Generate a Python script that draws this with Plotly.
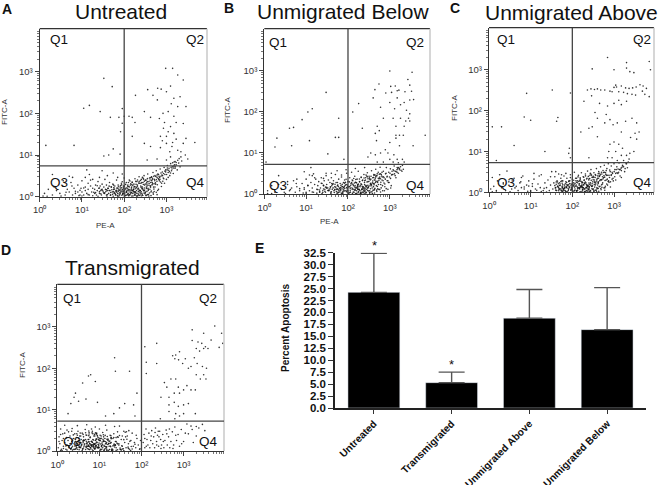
import plotly.graph_objects as go

W, H = 659, 485

# Flow-cytometry events: (PE-A, FITC-A)
untreated_events = [
(33,690),(52,437),(11,132),(15,155),(1.4,17),(6.5,17),(27,110),(47,80),(75,80),(90,130),(100,85),(130,85),(155,80),(180,60),(90,58),(82,36),(55,14),(43,10),(33,9.5),(80,10.5),
(960,1200),(1400,1200),(1850,830),(2500,630),(1250,450),(620,400),(750,380),(360,370),(480,270),(610,210),(1000,330),(1500,230),(2900,145),(1850,145),(830,100),(1500,85),(680,75),(420,80),(300,110),(185,270),(2500,57),(1250,48),(850,44),(1000,28),(1500,33),(720,28),(2900,25),(4700,20),(1000,19),(1350,16),(1850,13),(2500,19),(155,28),(300,19),(420,16),(720,15),(1250,9),(2200,9),(1000,7.6),(600,8),(350,7.6),(1700,60),(1100,110),(2100,250),(1300,170),(900,60),(1100,36),(1700,24),(2200,12),(1600,7),(2800,10),(3200,8),(1200,12),(800,22),(1400,20),
(1.3,1.2),(1.6,1.5),(2,1.1),(2.5,1.4),(3,1.2),(3.5,1.8),(4,1.1),(4.5,1.5),(5,1.3),(5.5,2.2),(6,1.1),(6.5,1.6),(7,1.2),(8,1.9),(8,1.3),(9,1.1),(9.5,1.6),(10,2.4),(10,1.3),(11,1.1),(12,1.7),(12,1.4),(13,1.2),(14,2.1),(14,1.5),(15,1.1),(16,1.8),(17,1.3),(18,1.6),(18,2.6),(20,1.2),(20,1.5),(21,1.9),(22,1.1),(23,1.4),(24,2.3),(25,1.6),(26,1.2),(27,1.8),(28,1.4),(29,1.1),(30,2.0),(30,1.5),(32,1.3),(33,1.7),(34,1.2),(35,2.6),(36,1.5),(38,1.1),(38,1.9),(40,1.4),(42,1.6),(43,1.2),(45,2.2),(46,1.4),(48,1.1),(50,1.7),(52,1.3),(54,2.0),(56,1.5),(58,1.2),(60,1.8),(62,1.1),(64,1.4),(66,2.5),(68,1.6),(70,1.2),(72,1.9),(75,1.4),(78,1.1),(80,1.7),(83,1.3),(86,2.1),(90,1.5),(93,1.2),(96,1.8),(100,1.4),(100,2.8),(104,1.1),(108,1.6),(112,2.2),(115,1.3),(120,1.8),(124,1.2),(128,1.5),(132,2.5),(136,1.1),(140,1.9),(145,1.4),(150,1.7),(155,2.2),(160,1.2),(165,1.5),(170,2.0),(175,1.3),(180,2.7),(185,1.1),(190,1.7),(196,1.4),(200,2.3),(206,1.9),(212,1.2),(218,1.6),(225,3.0),(232,2.1),(240,1.4),(246,1.8),(255,2.6),(262,1.2),(270,1.6),(278,2.2),(286,1.4),(295,3.2),(305,1.9),(315,1.3),(325,2.5),(335,1.7),(345,2.0),(360,3.5),(372,1.5),(385,2.3),(400,2.8),(415,1.8),(430,1.3),(445,3.0),(460,2.2),(480,3.8),(495,1.7),(515,2.6),(535,3.2),(555,2.0),(575,4.2),(600,2.9),(625,3.5),(650,1.5),(680,2.4),(710,4.6),(740,3.1),(770,2.1),(800,3.9),(840,2.8),(880,5.0),(920,3.4),(960,4.4),(1000,2.6),(1050,5.6),(1100,3.8),(1150,4.8),(1200,3.2),(1260,6.2),(1320,4.2),(1380,5.2),(1450,3.6),(1520,6.8),(1600,4.8),(1700,5.8),(1800,4.4),(1950,6.4),(2100,5.2),(2300,7.2),
(37,1.33),(112,1.27),(210,1.52),(88,1.08),(305,1.44),(26,1.62),(143,2.05),(61,1.21),(420,1.68),(178,1.15),(73,1.73),(254,1.31),(19,1.28),(530,2.41),(98,1.56),(340,2.16),(47,1.09),(166,1.36),(690,2.9),(122,1.91),(51,1.47),(233,1.07),(395,1.23),(84,1.38),(28,1.17),(610,1.94),(290,2.62),(134,1.12),(66,1.29),(470,2.77),(205,1.78),(41,1.58),(152,1.03),(365,1.59),(94,1.19),(23,1.83),(780,3.3),(118,1.42),(268,1.11),(57,1.66),(440,1.37),(188,2.33),(79,1.26),(330,1.05),(35,1.24),(560,3.05),(148,1.61),(103,1.02),(242,2.45),(69,1.06),(505,1.52),(160,1.87),(31,1.39),(855,3.6),(128,1.04),(295,1.22),(53,1.14),(410,2.52),(216,1.33),(86,1.64),(620,1.41),(175,1.08),(44,1.79),(375,1.13),(108,1.97),(960,3.9),(278,1.49),(64,1.35),(490,1.15),(196,1.04),(90,2.29),(725,2.25),(138,1.29),(355,2.71),(48,1.26),(250,1.69),(575,1.28),(114,1.1),(78,1.44),(1040,4.4),(310,1.18),(220,2.12),(158,1.43),(650,3.4),(96,1.32),(39,1.03),(455,1.92),(183,1.55),(71,1.01),(345,1.34),(126,2.2),(535,1.71),(270,2.9),(59,1.52),(820,2.35),(202,1.02),(105,1.48),(385,1.88),(146,1.24),(29,1.47),(1180,4.0),(600,1.12),(82,1.84),(300,2.36),(170,1.7),(425,2.2),(237,1.25),(55,1.02),(132,1.72),(500,3.1),(92,1.13),(1350,4.6),(660,2.6),(760,1.75),(1500,5.4),(900,2.1),(1700,6.6),(1100,2.9),(1250,3.7),(1850,7.5),(2000,8.2),(1550,5.8),(1050,4.9),(1400,6.5),
(7,1.35),(11,1.62),(14,1.12),(16,2.5),(18,1.05),(9,1.42),(12,2.9),(21,1.25),(24,1.02),(4.2,1.28),(5.8,1.8),(3.2,1.03),(2.2,1.7),(1.2,1.03),(6,2.9),(3.6,2.4),(8.5,1.06),(15,3.4),(26,2.9),(40,3.2),(70,2.9),(55,3.7),(30,4.2),(90,3.5),(13,4.4),(5,3.1),(2,3.4),(1.5,1.02),(10,1.04),(75,1.04),
(142,1.18),(265,1.72),(118,1.55),(372,1.42),(226,2.31),(89,1.31),(318,1.24),(156,1.39),(471,2.03),(198,1.63),(104,1.22),(284,1.96),(67,1.43),(431,1.06),(171,1.29),(125,1.09),(349,1.82),(243,1.16),(76,1.16),(512,1.33),(137,2.38),(193,1.21),(95,1.68),(406,1.51),(261,2.18),(151,1.93),(55,1.33),(324,2.47),(113,1.34),(219,1.11),(82,1.53),(462,2.61),(168,1.51),(299,1.62),(131,1.46),(548,2.15),(241,1.41),(101,1.79),(389,2.07),(186,1.27),(63,1.12),(275,1.07),(44,1.41),(354,1.12),(121,1.14),(207,2.52),(87,1.92),(596,2.35),(149,1.26),(422,1.81),(255,1.04),(72,1.33),(336,1.58),(33,1.22),(177,1.74),(109,1.07),(281,2.75),(49,1.72),(448,2.43),(224,1.47),(93,1.44),(510,2.04),(162,1.04),(68,1.62),(316,2.02),(129,1.38),(383,1.03),(38,1.46),(637,2.74),(211,1.06),(81,1.18),(296,1.39),(154,2.25),(417,2.85),(58,1.28),(249,2.11),(116,1.64),(575,2.58),(191,1.98),(26,1.32),(352,2.3),(99,1.21),(483,1.24),(146,1.49),(704,2.62),(263,1.56),(74,1.52),(230,1.38),(40,1.13),(865,2.7),(440,2.92),(125,1.76),(328,1.09),(182,1.31),(56,1.9),(598,3.3),(742,3.7),(668,3.1),(922,4.1),(1010,3.4),(812,3.2),(1130,4.3),(1290,5.1),(1480,4.9),(1620,5.2),
]

unmigrated_below_events = [
(30,300),(11,100),(14,120),(8,65),(5,42),(4,40),(12,20),(2,23),(1.8,14),(4.5,15),(60,70),(50,24),(60,24),(33,9.5),(80,7),(1.1,6),
(1000,1000),(3400,930),(2700,620),(3000,450),(550,480),(1350,430),(1050,420),(1650,340),(1500,330),(2300,310),(3300,320),(1100,300),(440,350),(800,290),(400,220),(180,160),(1000,170),(3700,200),(3000,195),(2200,170),(1800,150),(1300,120),(2500,110),(3000,90),(2800,70),(2400,60),(1800,70),(1200,70),(1400,45),(130,100),(220,40),(500,45),(560,35),(450,30),(480,20),(1400,27),(1700,27),(2100,27),(1400,23),(7000,27),(3600,15),(1700,15),(1000,18),(780,12),(600,10),(900,10),(1250,9),(450,9),(350,10),(300,8),(1500,7),(2000,7),(1000,7),(700,6),(500,6),(1200,6),(1600,5.8),(2200,6),(3000,60),(2200,45),(1500,220),(600,130),(700,70),
(1.2,1.2),(1.5,1.6),(1.8,1.1),(2.2,2.8),(2.6,1.3),(3,1.1),(3.6,1.7),(4,1.2),(4.5,1.4),(5,2.1),(5.5,1.1),(6,1.5),(7,1.2),(8,1.8),(9,3.5),(9,1.3),(10,1.1),(10,2.3),(11,1.6),(12,1.2),(13,1.9),(14,2.8),(14,1.4),(15,1.1),(16,1.7),(17,2.3),(18,1.3),(19,1.6),(20,2.0),(21,1.1),(22,1.4),(23,2.5),(24,1.8),(25,1.2),(26,1.6),(27,2.1),(28,1.3),(29,1.1),(30,2.8),(31,1.7),(33,1.4),(34,2.2),(35,1.2),(37,1.9),(38,1.5),(39,1.1),(40,2.5),(42,1.3),(43,1.7),(45,2.1),(46,1.2),(48,1.5),(50,3.0),(52,1.9),(54,1.3),(56,1.6),(58,1.1),(60,2.3),(62,1.4),(65,1.8),(67,1.2),(70,2.6),(72,1.5),(75,1.1),(78,1.9),(80,1.4),(83,2.2),(86,1.2),(90,1.7),(93,3.2),(96,1.4),(100,1.1),(100,2.0),(105,1.5),(110,2.5),(113,1.2),(118,1.8),(122,3.4),(126,1.3),(130,2.1),(135,1.6),(140,1.1),(145,2.7),(150,1.4),(155,1.9),(160,1.2),(165,2.3),(170,1.6),(176,3.6),(182,1.3),(188,2.0),(195,1.5),(200,1.1),(206,2.6),(212,1.7),(218,1.3),(225,2.2),(232,1.5),(240,3.0),(248,1.9),(256,1.2),(264,2.5),(272,1.6),(280,1.3),(290,3.3),(300,2.0),(310,1.5),(320,2.7),(330,1.2),(340,2.2),(352,1.7),(365,3.7),(378,1.4),(390,2.5),(402,1.8),(416,3.0),(430,1.3),(445,2.2),(460,4.0),(476,1.6),(492,2.8),(510,1.9),(528,3.4),(546,1.3),(565,2.4),(585,4.5),(605,1.7),(625,3.0),(650,2.2),(675,1.2),(700,3.6),(730,2.5),(760,1.5),(790,3.1),(825,4.4),(860,2.1),(900,1.3),(940,3.4),(980,2.6),(1030,4.1),(1080,1.6),(1130,3.0),(1200,3.9),(1270,4.8),(1340,2.8),(1420,3.5),(1500,4.4),(1600,3.2),(1700,3.9),(1800,4.6),(1950,3.6),(2100,4.0),
(37,1.33),(212,1.27),(110,1.52),(58,1.08),(305,1.44),(26,1.62),(143,1.85),(61,1.21),(420,1.68),(178,1.15),(73,1.73),(254,1.31),(19,1.28),(530,2.41),(98,1.56),(340,1.76),(47,1.09),(166,1.36),(690,2.1),(122,1.91),(51,1.47),(233,1.07),(395,1.23),(84,1.38),(28,1.17),(610,1.94),(290,2.62),(134,1.12),(66,1.29),(470,2.77),(205,1.78),(41,1.58),(152,1.03),(365,1.59),(94,1.19),(23,1.83),(780,2.3),(118,1.42),(268,1.11),(57,1.66),(440,1.37),(188,2.33),(79,1.26),(330,1.05),(35,1.24),(560,3.05),(148,1.61),(103,1.02),(242,2.45),(69,1.06),(505,1.52),(160,1.87),(31,1.39),(855,2.6),(128,1.04),(295,1.22),(53,1.14),(410,2.52),(216,1.33),(86,1.64),(620,1.41),(175,1.08),(44,1.79),(375,1.13),(108,1.97),(960,1.9),(278,1.49),(64,1.35),(490,1.15),(196,1.04),(90,2.29),(725,1.85),(138,1.29),(355,2.71),(48,1.26),(250,1.69),(575,1.28),(114,1.1),(78,1.44),(1040,2.4),(310,1.18),(220,2.12),(158,1.43),(650,3.4),(96,1.32),(39,1.03),(455,1.92),(183,1.55),(71,1.01),(345,1.34),(126,2.2),(535,1.71),(270,2.9),(59,1.52),(820,1.35),(202,1.02),(105,1.48),(385,1.88),(146,1.24),(29,1.47),(1180,3.0),(600,1.12),(82,1.84),(300,2.36),(170,1.7),(425,2.2),(237,1.25),(55,1.02),(132,1.72),(500,3.1),(92,1.13),(1350,3.6),(660,2.6),(760,1.75),(1500,3.4),(900,2.1),(1700,4.2),(1100,2.9),(1250,3.7),(1850,3.8),(2000,5.0),(1550,4.1),(1050,1.4),(1400,2.5),
(7,1.35),(11,1.62),(14,1.12),(16,2.5),(18,1.05),(9,1.42),(12,2.9),(21,1.25),(24,1.02),(4.2,1.28),(5.8,1.8),(3.2,1.03),(2.2,1.7),(1.2,1.03),(6,2.3),(3.6,2.0),(8.5,1.06),(15,3.1),(26,2.4),(40,3.2),(70,2.9),(55,3.7),(30,3.2),(90,3.9),(13,4.4),(1.5,1.02),(10,1.04),(75,1.04),(150,4.2),(250,4.4),
(242,1.18),(365,1.72),(218,1.55),(172,1.42),(326,2.31),(49,1.31),(418,1.24),(256,1.39),(471,2.03),(198,1.63),(34,1.22),(284,1.96),(67,1.43),(431,1.06),(171,1.29),(25,1.09),(349,1.82),(243,1.16),(76,1.16),(512,1.33),(137,2.38),(193,1.21),(95,1.68),(406,1.51),(261,2.18),(151,1.93),(55,1.33),(324,2.47),(113,1.34),(219,1.11),(82,1.53),(462,2.61),(168,1.51),(299,1.62),(31,1.46),(548,2.15),(241,1.41),(41,1.79),(389,2.07),(186,1.27),(63,1.12),(275,1.07),(44,1.41),(354,1.12),(21,1.14),(207,2.52),(87,1.92),(596,2.35),(149,1.26),(422,1.81),(255,1.04),(72,1.33),(336,1.58),(33,1.22),(177,1.74),(109,1.07),(281,2.75),(49,1.72),(448,2.43),(224,1.47),(93,1.44),(510,2.04),(162,1.04),(68,1.62),(316,2.02),(129,1.38),(383,1.03),(38,1.46),(637,2.74),(211,1.06),(81,1.18),(296,1.39),(154,2.25),(417,2.85),(58,1.28),(249,2.11),(116,1.64),(575,2.58),(191,1.98),(26,1.32),(352,2.3),(99,1.21),(483,1.24),(146,1.49),(704,2.62),(263,1.56),(74,1.52),(230,1.38),(40,1.13),(865,2.7),(440,2.92),(125,1.76),(328,1.09),(182,1.31),(56,1.9),(598,3.1),(742,1.2),(668,1.6),(922,1.9),(1010,3.2),(812,3.2),(1130,3.6),(1290,3.1),(1480,3.9),(1620,4.4),
]

unmigrated_above_events = [
(8,265),(33,320),(90,270),(7,70),(10,58),(45,68),(42,55),(1.2,40),(2,40),(4,14),(22,10),(85,12),(82,9),(90,7),(1.5,6),
(700,2000),(2000,1500),(2000,1100),(7000,1600),(300,1050),(1000,1000),(2400,900),(3000,850),(7500,1000),(4000,5500),(1100,420),(1150,380),(1000,370),(1500,400),(1900,360),(2300,350),(2800,360),(3400,380),(4200,430),(5000,400),(4800,300),(6000,350),(230,320),(280,340),(340,330),(400,340),(480,320),(600,320),(800,300),(900,290),(1300,290),(1700,280),(2100,260),(2700,250),(3300,240),(5500,250),(7000,220),(290,230),(190,170),(1300,180),(2000,170),(1000,150),(1500,140),(700,130),(450,150),(350,90),(400,65),(650,80),(800,60),(1200,50),(1900,55),(2700,65),(3500,50),(4000,30),(3200,28),(2500,22),(1500,30),(950,45),(600,50),(300,40),(250,37),(160,30),(400,23),(1000,17),(1300,15),(1600,12),(800,15),(750,10),(1100,10),(1500,8),(2000,8),(2400,9),(3000,10),(3500,20),(700,7),(900,7),(1200,6),(250,7),
(1.1,1.2),(1.2,2.3),(1.3,1.4),(1.5,1.1),(1.6,1.9),(1.8,2.7),(2,1.3),(2.2,1.6),(2.5,1.1),(2.7,3.3),(3,1.8),(3.5,1.2),(4,2.2),(4.5,1.4),(5,1.1),(5.5,1.7),(6,1.3),(6.5,2.5),(7,1.2),(8,1.5),(9,1.9),(10,1.1),(11,1.4),(12,2.1),(13,1.2),(15,1.6),(17,1.3),(18,2.7),(20,1.1),(22,1.7),(24,1.3),(26,2.0),(28,1.1),(30,1.5),(32,3.2),(34,1.2),(36,1.7),(38,2.4),(40,1.3),(42,1.1),(43,1.9),(45,1.4),(47,2.8),(49,1.2),(51,1.6),(53,2.2),(55,1.1),(57,1.4),(59,1.9),(61,1.2),(63,2.5),(65,1.5),(67,1.1),(70,1.8),(72,1.3),(74,2.2),(77,1.5),(80,1.1),(83,1.9),(86,1.3),(90,2.7),(93,1.6),(96,1.2),(100,1.1),(100,2.1),(104,1.4),(108,1.7),(112,3.1),(116,1.2),(120,2.2),(124,1.5),(128,1.1),(132,1.9),(136,1.3),(140,2.6),(145,1.6),(150,1.2),(155,2.1),(160,1.4),(165,3.0),(170,1.8),(176,1.3),(182,2.4),(188,1.5),(194,2.0),(200,1.2),(206,2.8),(212,1.7),(218,1.3),(225,2.2),(232,3.3),(240,1.5),(248,2.0),(256,1.2),(264,2.6),(272,1.7),(280,3.6),(290,1.4),(300,2.3),(310,1.8),(320,1.2),(330,3.0),(340,2.0),(352,1.5),(365,2.6),(378,3.8),(390,1.3),(402,2.2),(416,1.7),(430,3.2),(445,2.5),(460,1.4),(476,4.2),(492,2.0),(510,2.8),(528,1.6),(546,3.4),(565,2.3),(585,4.6),(605,1.3),(625,3.0),(650,2.0),(675,3.8),(700,1.5),(730,5.0),(760,2.6),(790,3.5),(825,1.8),(860,4.4),(900,3.1),(950,2.2),(1000,5.0),(1050,3.6),(1100,2.0),(1170,4.2),(1240,2.9),(1320,5.2),(1400,3.6),(1500,2.3),(1600,4.6),(1700,6.0),(1800,3.2),(1950,5.0),(2100,4.0),(2300,6.5),
(57,1.33),(212,1.27),(110,1.52),(58,1.08),(305,1.44),(46,1.62),(143,1.85),(61,1.21),(420,1.68),(178,1.15),(73,1.73),(254,1.31),(39,1.28),(530,2.41),(98,1.56),(340,1.76),(47,1.09),(166,1.36),(690,2.1),(122,1.91),(51,1.47),(233,1.07),(395,1.23),(84,1.38),(48,1.17),(610,1.94),(290,2.62),(134,1.12),(66,1.29),(470,2.77),(205,1.78),(41,1.58),(152,1.03),(365,1.59),(94,1.19),(53,1.83),(780,2.3),(118,1.42),(268,1.11),(57,1.66),(440,1.37),(188,2.33),(79,1.26),(330,1.05),(65,1.24),(560,3.05),(148,1.61),(103,1.02),(242,2.45),(69,1.06),(505,1.52),(160,1.87),(71,1.39),(855,2.6),(128,1.04),(295,1.22),(53,1.14),(410,2.52),(216,1.33),(86,1.64),(620,1.41),(175,1.08),(44,1.79),(375,1.13),(108,1.97),(960,1.9),(278,1.49),(64,1.35),(490,1.15),(196,1.04),(90,2.29),(725,1.85),(138,1.29),(355,2.71),(48,1.26),(250,1.69),(575,1.28),(114,1.1),(78,1.44),(1040,2.4),(310,1.18),(220,2.12),(158,1.43),(650,3.4),(96,1.32),(59,1.03),(455,1.92),(183,1.55),(71,1.01),(345,1.34),(126,2.2),(535,1.71),(270,2.9),(59,1.52),(820,1.35),(202,1.02),(105,1.48),(385,1.88),(146,1.24),(49,1.47),(1180,3.0),(600,1.12),(82,1.84),(300,2.36),(170,1.7),(425,2.2),(237,1.25),(55,1.02),(132,1.72),(500,3.1),(92,1.13),(1350,3.6),(660,2.6),(760,1.75),(1500,3.4),(900,2.1),(1700,4.2),(1100,2.9),(1250,3.7),(1850,3.8),(2000,5.0),(1550,4.1),(1400,2.5),(2200,5.5),
(7,1.35),(11,1.62),(14,1.12),(16,2.5),(18,1.05),(9,1.42),(12,2.9),(21,1.25),(24,1.02),(4.2,1.28),(5.8,1.8),(3.2,1.03),(2.2,1.7),(1.2,1.03),(6,2.3),(3.6,2.0),(8.5,1.06),(30,2.4),(40,3.2),(70,2.9),(55,2.7),(1.5,1.02),(10,1.04),(75,1.04),
(242,1.18),(365,1.72),(218,1.55),(172,1.42),(326,2.31),(149,1.31),(418,1.24),(256,1.39),(471,2.03),(198,1.63),(134,1.22),(284,1.96),(167,1.43),(431,1.06),(171,1.29),(125,1.09),(349,1.82),(243,1.16),(176,1.16),(512,1.33),(137,2.38),(193,1.21),(195,1.68),(406,1.51),(261,2.18),(151,1.93),(155,1.33),(324,2.47),(113,1.34),(219,1.11),(82,1.53),(462,2.61),(168,1.51),(299,1.62),(231,1.46),(548,2.15),(241,1.41),(41,1.79),(389,2.07),(186,1.27),(63,1.12),(275,1.07),(44,1.41),(354,1.12),(61,1.14),(207,2.52),(87,1.92),(596,2.35),(149,1.26),(422,1.81),(255,1.04),(72,1.33),(336,1.58),(53,1.22),(177,1.74),(109,1.07),(281,2.75),(49,1.72),(448,2.43),(224,1.47),(93,1.44),(510,2.04),(162,1.04),(68,1.62),(316,2.02),(129,1.38),(383,1.03),(38,1.46),(637,2.74),(211,1.06),(81,1.18),(296,1.39),(154,2.25),(417,2.85),(58,1.28),(249,2.11),(116,1.64),(575,2.58),(191,1.98),(46,1.32),(352,2.3),(99,1.21),(483,1.24),(146,1.49),(704,2.62),(263,1.56),(74,1.52),(230,1.38),(40,1.13),(865,2.7),(440,2.92),(125,1.76),(328,1.09),(182,1.31),(56,1.9),(598,3.1),(742,1.9),(668,1.6),(922,2.9),(1010,3.2),(812,3.2),(1130,3.6),(1290,3.1),(1480,3.9),(1620,4.4),
]

transmigrated_events = [
(1.8,8),(2.1,14),(2.5,20),(2.7,25),(3.2,16),(4,44),(4.8,18),(5.5,65),(6.2,70),(8,48),(9,15),(14,7),(22,8),(24,85),(23,180),(30,11),(40,14),(52,85),(65,13),(70,7),(78,25),
(5500,1050),(3000,700),(1600,850),(8000,700),(4500,480),(7000,320),(8500,400),(120,330),(230,400),(130,140),(130,75),(230,130),(1600,470),(2200,430),(2700,400),(3000,300),(3300,330),(3800,300),(2400,260),(2000,300),(800,250),(650,210),(550,200),(620,170),(760,160),(950,130),(1100,170),(1500,110),(2100,130),(2800,110),(3500,100),(3000,70),(2000,70),(2500,55),(3400,55),(1300,100),(1800,180),(500,55),(350,45),(650,55),(400,35),(750,35),(1000,30),(1200,38),(1500,30),(1900,30),(600,25),(800,25),(450,20),(290,20),(600,15),(450,13),(750,12),(1000,13),(1300,14),(450,9),(650,8),(1000,8),(800,7),(620,6),(1900,8),(280,6),(250,3),
(1.05,1.2),(1.1,2.2),(1.15,1.5),(1.2,3.4),(1.25,1.1),(1.3,1.8),(1.35,2.6),(1.4,1.3),(1.5,1.6),(1.5,4.2),(1.6,1.1),(1.65,2.1),(1.7,1.4),(1.8,1.8),(1.85,2.9),(1.9,1.2),(2,1.5),(2,2.3),(2.1,1.1),(2.2,1.7),(2.25,3.5),(2.3,1.3),(2.4,2.0),(2.5,1.5),(2.5,1.1),(2.6,2.6),(2.7,1.7),(2.8,1.3),(2.9,2.1),(3,1.5),(3,1.1),(3.1,3.0),(3.2,1.8),(3.3,1.3),(3.4,2.3),(3.5,1.6),(3.6,1.2),(3.7,1.9),(3.8,1.4),(3.9,2.7),(4,1.1),(4.1,1.7),(4.2,2.2),(4.3,1.3),(4.5,1.5),(4.6,3.3),(4.7,1.9),(4.9,1.2),(5,2.4),(5.1,1.6),(5.3,1.3),(5.4,1.9),(5.6,1.1),(5.7,2.8),(5.9,1.5),(6,2.1),(6.2,1.2),(6.4,1.7),(6.6,1.4),(6.8,3.0),(7,1.9),(7.2,1.2),(7.4,2.3),(7.6,1.5),(7.8,1.1),(8,1.8),(8.3,1.3),(8.5,2.6),(8.8,1.6),(9,1.2),(9.3,2.1),(9.6,1.4),(10,3.4),(10,1.8),(10.5,1.1),(11,2.3),(11.5,1.5),(12,1.2),(12,2.8),(12.5,1.7),(13,1.3),(13.5,2.0),(14,1.5),(15,3.2),(15,1.1),(16,1.8),(17,1.3),(18,2.4),(19,1.6),(20,1.1),(21,2.0),(22,1.4),(23,3.9),(24,1.7),(25,1.2),(27,2.2),(29,1.5),(31,1.1),(33,1.9),(35,1.3),(38,3.0),(40,1.6),(43,1.2),(46,2.3),(49,1.5),(52,1.1),(56,1.8),(60,2.7),(64,1.3),(68,1.6),(73,1.2),(78,2.0),(84,1.4),(90,1.1),(110,1.6),(115,2.5),(120,1.2),(128,3.4),(135,1.9),(142,1.4),(150,2.7),(158,1.2),(166,1.8),(175,3.1),(185,1.5),(195,2.2),(205,1.2),(215,3.6),(228,1.7),(240,2.4),(255,1.3),(270,3.0),(285,1.9),(300,1.4),(320,2.5),(340,1.2),(360,1.8),(385,3.2),(410,1.4),(440,2.2),(470,1.2),(500,1.7),(540,2.9),(580,1.4),(620,3.8),(680,1.8),(740,2.5),(800,1.3),(880,3.3),(1000,1.7),(1200,4.5),(1300,2.6),(1500,4.0),(1700,1.6),(2000,2.3),(2300,3.6),(2800,4.4),
(3.7,1.33),(11.2,1.27),(2.1,1.52),(5.8,1.08),(7.5,1.44),(2.6,1.62),(4.3,1.85),(6.1,1.21),(14,1.68),(7.8,1.15),(1.3,1.03),(5.4,1.31),(1.9,1.28),(8.9,2.41),(9.8,1.56),(3.4,1.76),(4.7,1.09),(6.6,1.36),(19,2.1),(12.2,1.91),(5.1,1.47),(3.3,1.07),(9.5,1.23),(8.4,1.38),(2.8,1.17),(16,1.94),(2.9,2.62),(13.4,1.12),(6.6,1.29),(4.7,2.77),(10.5,1.78),(4.1,1.58),(15,1.03),(3.6,1.59),(9.4,1.19),(2.3,1.83),(7.8,2.3),(11.8,1.42),(2.7,1.11),(5.7,1.66),(24,1.37),(18.8,2.33),(7.9,1.26),(33,1.05),(3.5,1.24),(5.6,3.05),(14.8,1.61),(10.3,1.02),(2.4,2.45),(6.9,1.06),(5,1.52),(16,1.87),(3.1,1.39),(8.5,2.6),(12.8,1.04),(2.9,1.22),(5.3,1.14),(4.1,2.52),(21,1.33),(8.6,1.64),(6.2,1.41),(17.5,1.08),(4.4,1.79),(37,1.13),(10.8,1.97),(9.6,1.9),(27,1.49),(6.4,1.35),(49,1.15),(19.6,1.04),(9,2.29),(7.2,1.85),(13.8,1.29),(3.5,2.71),(4.8,1.26),(25,1.69),(57,1.28),(11.4,1.1),(7.8,1.44),(10.4,2.4),(31,1.18),(22,2.12),(15.8,1.43),(6.5,3.4),(9.6,1.32),(3.9,1.03),(45,1.92),(18.3,1.55),(7.1,1.01),(34,1.34),(12.6,2.2),(53,1.71),(27,2.9),(5.9,1.52),(8.2,1.35),(20,1.02),(10.5,1.48),(38,1.88),(14.6,1.24),(2.9,1.47),(1.2,1.03),(60,1.12),(8.2,1.84),(30,2.36),(17,1.7),(42,2.2),(23,1.25),(55,1.02),(13.2,1.72),(50,3.1),(92,1.13),(1.5,2.7),(1.1,1.7),(1.7,3.2),(2.2,3.0),(3,4.1),(5,4.3),(8,3.8),(14,4.2),(30,4.0),(1.4,1.15),(75,2.4),(70,1.45),(95,1.8),(130,1.3),(170,2.3),(230,1.4),(260,2.2),(330,1.7),(120,2.0),(210,2.8),(290,1.15),(400,2.6),(560,1.15),(460,3.4),(900,1.5),(650,2.4),(1100,2.7),(2000,3.9),(3200,3.1),(1600,3.3),
(4.2,1.18),(6.5,1.72),(2.8,1.55),(7.2,1.42),(3.6,2.31),(4.9,1.31),(8.8,1.24),(5.6,1.39),(10.1,2.03),(6.8,1.63),(3.4,1.22),(8.4,1.96),(6.7,1.43),(13.1,1.06),(7.1,1.29),(2.5,1.09),(9.9,1.82),(14.3,1.16),(7.6,1.16),(11.2,1.33),(13.7,2.38),(9.3,1.21),(5.5,1.68),(16.6,1.51),(6.1,2.18),(15.1,1.93),(5.5,1.33),(12.4,2.47),(11.3,1.34),(19.9,1.11),(8.2,1.53),(22,2.61),(16.8,1.51),(2.9,1.62),(3.1,1.46),(28,2.15),(24,1.41),(4.1,1.79),(18.9,2.07),(18.6,1.27),(6.3,1.12),(27,1.07),(4.4,1.41),(35,1.12),(2.1,1.14),(7.7,2.52),(8.7,1.92),(5.6,2.35),(14.9,1.26),(4.2,1.81),(25,1.04),(7.2,1.33),(3.6,1.58),(3.3,1.22),(17.7,1.74),(10.9,1.07),(8.1,2.75),(4.9,1.72),(4.8,2.43),(22.4,1.47),(9.3,1.44),(11,2.04),(16.2,1.04),(6.8,1.62),(3.2,2.02),(12.9,1.38),(38,1.03),(3.8,1.46),(6.7,2.74),(21,1.06),(8.1,1.18),(29,1.39),(15.4,2.25),(41,2.85),(5.8,1.28),(24.9,2.11),(11.6,1.64),(5.7,2.58),(19.1,1.98),(2.6,1.32),(35,2.3),(9.9,1.21),(48,1.24),(14.6,1.49),(7,2.62),(26,1.56),(7.4,1.52),(23,1.38),(4,1.13),(8.6,2.7),(44,2.92),(12.5,1.76),(32,1.09),(18.2,1.31),(5.6,1.9),(2.7,1.9),(2.2,1.22),(1.6,1.32),(3,2.4),(1.2,2.5),(1.4,2.0),(1.7,1.05),(2.3,1.05),
]

apoptosis_groups = ["Untreated", "Transmigrated", "Unmigrated Above", "Unmigrated Below"]
apoptosis_mean = [24.2, 5.3, 18.8, 16.4]
apoptosis_err = [8.2, 2.2, 6.0, 8.8]
apoptosis_ticks = [0, 2.5, 5, 7.5, 10, 12.5, 15, 17.5, 20, 22.5, 25, 27.5, 30, 32.5]

log_ticks = [1, 10, 100, 1000]
log_labels = ["10⁰", "10¹", "10²", "10³"]
minor_ticks = [m * d for d in (1, 10, 100, 1000) for m in range(2, 10)]

panels = [
    dict(name="Untreated", events=untreated_events, box=(39.7, 207, 28.7, 196.7), gate=(100, 5.5),
         q=(58.5, 195, 39.3, 182.7), title=(121, 11), letter=("A", 7, 9), fitc=(4, 112), pe=(105, 225)),
    dict(name="Unmigrated Below", events=unmigrated_below_events, box=(264.3, 430, 28.7, 194), gate=(100, 5.3),
         q=(278, 415, 42.7, 185.7), title=(343, 11), letter=("B", 229, 8), fitc=(228, 110), pe=(329, 222)),
    dict(name="Unmigrated Above", events=unmigrated_above_events, box=(489, 654, 27.7, 192.3), gate=(100, 5.3),
         q=(505.7, 642, 39, 182.3), title=(571, 12), letter=("C", 455, 8), fitc=(454, 108), pe=None),
    dict(name="Transmigrated", events=transmigrated_events, box=(57.3, 224, 284.3, 451), gate=(100, 5.3),
         q=(72, 208, 298, 441.7), title=(132, 267), letter=("D", 6, 250), fitc=(22, 365), pe=None),
]

FONT = "Liberation Sans, Arial, sans-serif"
fig = go.Figure()
notes, shapes = [], []


def px(x):
    return x / W


def py(y):
    return 1 - y / H


def text(t, x, y, size, color="#111", bold=False, angle=0):
    notes.append(dict(text=f"<b>{t}</b>" if bold else t, x=px(x), y=py(y), xref="paper", yref="paper",
                      showarrow=False, xanchor="center", yanchor="middle", textangle=angle,
                      font=dict(family=FONT, size=size, color=color)))


for i, p in enumerate(panels, start=1):
    l, r, t, b = p["box"]
    suffix = "" if i == 1 else str(i)
    xa, ya = f"x{suffix}", f"y{suffix}"
    fig.add_trace(go.Scatter(x=[e[0] for e in p["events"]], y=[e[1] for e in p["events"]], mode="markers",
                             marker=dict(size=1.6, color="#111111", opacity=0.85, line=dict(width=0)), xaxis=xa, yaxis=ya,
                             name=p["name"], showlegend=False, hoverinfo="skip"))
    axis = dict(type="log", tickmode="array", tickvals=log_ticks, ticktext=log_labels, ticks="outside", ticklen=4,
                tickwidth=1, tickcolor="#444", showgrid=False, zeroline=False, showline=True, linecolor="#333",
                linewidth=1.2, automargin=False, tickfont=dict(family=FONT, size=9.5, color="#333"),
                minor=dict(tickmode="array", tickvals=minor_ticks, ticks="outside", ticklen=2, tickcolor="#777",
                           showgrid=False))
    fig.update_layout({
        f"xaxis{suffix}": dict(axis, domain=[px(l), px(r)], range=[0, 3.96], anchor=ya),
        f"yaxis{suffix}": dict(axis, domain=[py(b), py(t)], range=[0, 4.03], anchor=xa),
    })
    gx, gy = p["gate"]
    shapes.append(dict(type="line", xref="paper", yref="paper", x0=px(l), x1=px(r), y0=py(t), y1=py(t),
                       line=dict(color="#333", width=1.2)))
    shapes.append(dict(type="line", xref="paper", yref="paper", x0=px(r), x1=px(r), y0=py(t), y1=py(b),
                       line=dict(color="#c8c8c8", width=1.5)))
    shapes.append(dict(type="line", xref=xa, yref=f"{ya} domain", x0=gx, x1=gx, y0=0, y1=1,
                       line=dict(color="#444", width=1.3)))
    shapes.append(dict(type="line", xref=f"{xa} domain", yref=ya, x0=0, x1=1, y0=gy, y1=gy,
                       line=dict(color="#444", width=1.3)))
    ql, qr, qt, qb = p["q"]
    text("Q1", ql, qt, 13.5)
    text("Q2", qr, qt, 13.5)
    text("Q3", ql, qb, 13.5)
    text("Q4", qr, qb, 13.5)
    text(p["name"], p["title"][0], p["title"][1], 21)
    text(p["letter"][0], p["letter"][1], p["letter"][2], 14, bold=True)
    text("FITC-A", p["fitc"][0], p["fitc"][1], 8, color="#333", angle=-90)
    if p["pe"]:
        text("PE-A", p["pe"][0], p["pe"][1], 8, color="#333")

fig.add_trace(go.Bar(x=apoptosis_groups, y=apoptosis_mean, width=0.667, marker=dict(color="#000000"),
                     error_y=dict(type="data", symmetric=False, array=apoptosis_err, arrayminus=[0, 0, 0, 0],
                                  color="#555", thickness=1.4, width=13),
                     xaxis="x5", yaxis="y5", showlegend=False, hoverinfo="skip"))
fig.update_layout(
    xaxis5=dict(domain=[px(335), px(646)], range=[-0.5, 3.5], anchor="y5", type="category", automargin=False,
                categoryorder="array", categoryarray=apoptosis_groups, tickangle=-45, ticks="outside", ticklen=4,
                tickcolor="#333", showline=True, linecolor="#222", linewidth=1.5, showgrid=False,
                tickfont=dict(family=FONT, size=10.2, color="#111", weight=700)),
    yaxis5=dict(domain=[py(408), py(252.7)], range=[0, 32.5], anchor="x5", tickmode="array", automargin=False,
                tickvals=apoptosis_ticks, ticktext=[f"{v:.1f}" for v in apoptosis_ticks], ticks="outside",
                ticklen=5, tickcolor="#333", showline=True, linecolor="#222", linewidth=1.5, showgrid=False,
                zeroline=False, tickfont=dict(family=FONT, size=11.5, color="#111", weight=700)),
)
text("E", 259, 248, 14, bold=True)
text("Percent Apoptosis", 285, 328, 10, bold=True, angle=-90)
text("*", 374, 245, 13)
text("*", 451.7, 364, 13)

fig.update_layout(width=W, height=H, autosize=False, margin=dict(l=0, r=0, t=0, b=0), paper_bgcolor="white",
                  plot_bgcolor="white", annotations=notes, shapes=shapes, showlegend=False)
fig.write_html("out.html", config=dict(displayModeBar=False),
               post_script="document.body.style.margin='0';")
